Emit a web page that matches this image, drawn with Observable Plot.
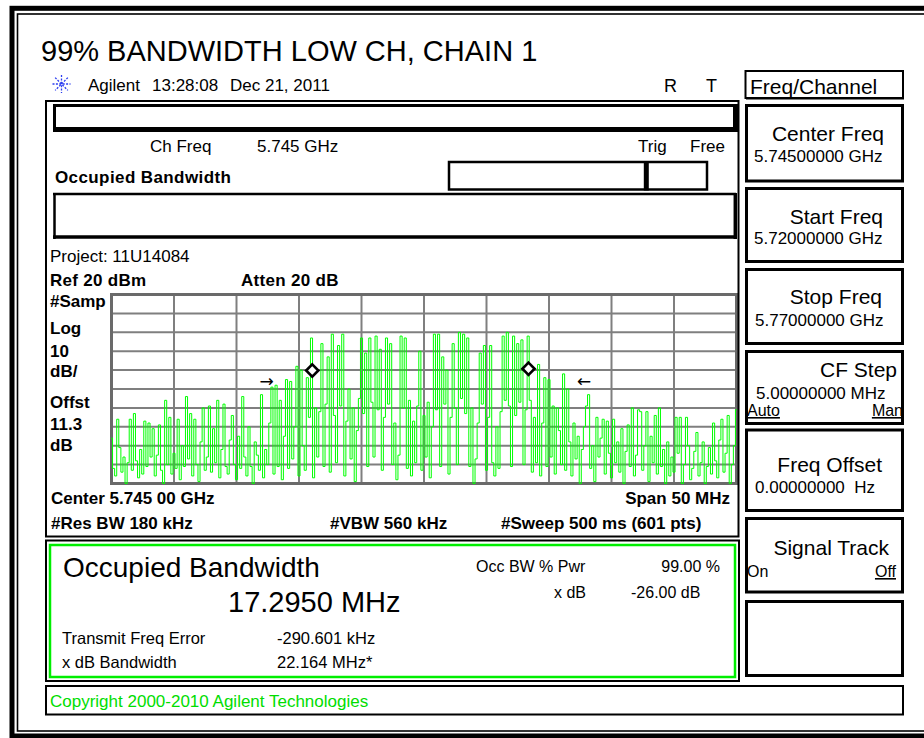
<!DOCTYPE html>
<html>
<head>
<meta charset="utf-8">
<script src="https://cdn.jsdelivr.net/npm/d3@7"></script>
<script src="https://cdn.jsdelivr.net/npm/@observablehq/plot@0.6"></script>
<style>
  html, body { margin: 0; padding: 0; background: #fff; }
  #wrap { position: relative; width: 924px; height: 738px; overflow: hidden; background: #fff; }
  #wrap svg { position: absolute; }
  #overlay { left: 0; top: 0; pointer-events: none; }
</style>
</head>
<body>
<div id="wrap"></div>
<script>
// ---------------- data ----------------
const startFreqMHz = 5720;
const stopFreqMHz = 5770;
const refLevelDbm = 20;
const bottomLevelDbm = -80;
const xGridMHz = [5720, 5725, 5730, 5735, 5740, 5745, 5750, 5755, 5760, 5765, 5770];
const yGridDbm = [-80, -70, -60, -50, -40, -30, -20, -10, 0, 10, 20];

// trace (dBm), evenly spaced across the 50 MHz span
const traceDbm = [
-56,-72,-76,-46,-61,-74,-66,-80,-69,-46,
-73,-43,-68,-77,-62,-75,-47,-71,-48,-66,
-51,-76,-65,-49,-73,-80,-36,-70,-45,-75,
-64,-72,-46,-78,-60,-71,-34,-67,-43,-76,
-46,-70,-79,-58,-40,-73,-66,-39,-74,-51,
-69,-36,-77,-62,-38,-71,-75,-57,-44,-70,
-78,-55,-72,-34,-66,-76,-50,-71,-80,-58,
-65,-73,-33,-77,-62,-70,-48,-29,-75,-28,
-71,-36,-78,-55,-25,-72,-26,-67,-50,-18,
-76,-20,-60,-73,-24,-45,-3,-77,-40,-66,
-42,-6,-71,-38,-13,-74,-1,-44,-69,-7,
-39,-1,-76,-47,-30,-67,-40,-79,-52,-35,
-3,-43,-11,-71,-3,-37,-66,-2,-41,-9,
-73,-45,-3,-38,-6,-70,-48,-78,-65,-2,
-40,-3,-72,-36,-76,-47,-69,-39,-10,-73,
-44,-66,-37,-77,-50,-1,-41,-1,-71,-13,
-38,-20,-75,-45,-6,-40,-70,0,-35,-1,
-43,-3,-71,-40,-80,-67,-48,-11,-38,-7,
-73,-45,-7,-69,-76,-50,-72,-42,-2,-36,
0,-39,-71,-2,-44,-6,-37,-4,-70,-41,
-2,-36,-74,-45,-69,-17,-76,-48,-24,-71,
-25,-66,-39,-75,-40,-52,-70,-22,-73,-30,
-58,-76,-48,-67,-55,-80,-62,-50,-39,-33,
-72,-60,-79,-45,-66,-56,-46,-75,-47,-64,
-77,-46,-69,-58,-74,-51,-80,-63,-49,-71,
-40,-76,-65,-41,-42,-73,-60,-42,-79,-55,
-69,-44,-75,-40,-71,-62,-80,-58,-76,-66,
-74,-45,-64,-45,-80,-70,-45,-60,-78,-72,
-63,-53,-76,-69,-58,-80,-71,-61,-75,-48,
-68,-77,-57,-46,-74,-64,-44,-80,-70,-60,
-41];

// occupied bandwidth edge markers (diamonds)
const obwEdgeMHz = [5736.06, 5753.36];
const obwEdgeDbm = [-20.2, -19.3];
// x dB bandwidth arrows
const xdbArrowMHz = [5732.4, 5757.8];
const xdbArrowDbm = [-26, -26];
const xdbArrowGlyph = ["→", "←"];

// ---------------- build tables ----------------
const nPts = traceDbm.length;
const trace = traceDbm.map((v, i) => ({f: startFreqMHz + i * (stopFreqMHz - startFreqMHz) / (nPts - 1), dbm: v}));
const markers = obwEdgeMHz.map((f, i) => ({f, dbm: obwEdgeDbm[i]}));
const arrows = xdbArrowMHz.map((f, i) => ({f, dbm: xdbArrowDbm[i], t: xdbArrowGlyph[i]}));

const wrap = document.getElementById("wrap");

// ---------------- spectrum plot ----------------
const chart = Plot.plot({
  width: 635,
  height: 199,
  marginLeft: 5, marginRight: 5, marginTop: 5, marginBottom: 5,
  x: {domain: [startFreqMHz, stopFreqMHz], axis: null},
  y: {domain: [bottomLevelDbm, refLevelDbm], axis: null},
  style: {background: "transparent", overflow: "visible"},
  marks: [
    Plot.ruleX(xGridMHz, {stroke: "#7f7f7f", strokeWidth: 2}),
    Plot.ruleY(yGridDbm, {stroke: "#7f7f7f", strokeWidth: 2}),
    Plot.frame({stroke: "#6a6a6a", strokeWidth: 3}),
    Plot.line(trace, {x: "f", y: "dbm", stroke: "#00ff00", strokeWidth: 1, curve: "step"}),
    Plot.dot(markers, {x: "f", y: "dbm", symbol: "diamond2", r: 5.5, stroke: "#000", strokeWidth: 2.6, fill: "#fff"}),
    Plot.text(arrows, {x: "f", y: "dbm", text: "t", fontSize: 17, fill: "#000", fontFamily: "DejaVu Sans"})
  ]
});
chart.style.left = "106px";
chart.style.top = "289px";
wrap.appendChild(chart);

// ---------------- instrument frame & labels ----------------
const W = 924, H = 738;
const svg = d3.create("svg").attr("id", "overlay").attr("width", W).attr("height", H)
  .attr("font-family", "'Liberation Sans', Arial, sans-serif");

function rect(x0, y0, x1, y1, sw, color) {
  return svg.append("rect").attr("x", x0).attr("y", y0).attr("width", x1 - x0).attr("height", y1 - y0)
    .attr("fill", "none").attr("stroke", color || "#000").attr("stroke-width", sw);
}
function line(x0, y0, x1, y1, sw, color) {
  return svg.append("line").attr("x1", x0).attr("y1", y0).attr("x2", x1).attr("y2", y1)
    .attr("stroke", color || "#000").attr("stroke-width", sw);
}
function txt(s, x, y, o = {}) {
  const t = svg.append("text").attr("x", x).attr("y", y)
    .attr("font-size", o.size || 17)
    .attr("text-anchor", o.anchor || "start")
    .attr("fill", o.color || "#000")
    .style("white-space", "pre")
    .text(s);
  if (o.bold) t.attr("font-weight", "bold");
  if (o.underline) t.attr("text-decoration", "underline");
  if (o.ls) t.attr("letter-spacing", o.ls);
  return t;
}

// outer frame
rect(12, 8.3, 960, 736, 5);
rect(17.5, 14, 960, 731, 1.6);

// title
txt("99% BANDWIDTH LOW CH, CHAIN 1", 41, 61, {size: 29});

// agilent logo
[0, 45, 90, 135].forEach(a => {
  const r = 9, rad = a * Math.PI / 180;
  line(61.5 - r * Math.cos(rad), 84 - r * Math.sin(rad), 61.5 + r * Math.cos(rad), 84 + r * Math.sin(rad), 1.3, "#2a3cf0")
    .attr("stroke-dasharray", "2,1.4");
});
txt("Agilent", 88, 91, {size: 17});
txt("13:28:08", 152, 91, {size: 17});
txt("Dec 21, 2011", 230, 91, {size: 17});
txt("R", 664, 92, {size: 18});
txt("T", 706, 92, {size: 18});

// display area
rect(46, 101, 738.5, 536.5, 2);
// top bar box
line(53, 105.5, 736, 105.5, 3);
line(54.5, 104, 54.5, 131, 3);
line(53, 129.5, 738, 129.5, 5);
line(735.5, 104, 735.5, 132, 5);
txt("Ch Freq", 150, 152);
txt("5.745 GHz", 257, 152);
txt("Trig", 638, 152);
txt("Free", 690, 152);
txt("Occupied Bandwidth", 55, 183, {bold: true, ls: "0.4px"});
// trig box
rect(449, 162, 707, 189.5, 2.5);
line(646.3, 161, 646.3, 190.5, 5);
// second bar box
line(53, 194, 736, 194, 2.5);
line(54.5, 193, 54.5, 239, 2.5);
line(53, 237, 737, 237, 3.5);
line(735.3, 193, 735.3, 239, 3.5);

txt("Project: 11U14084", 50, 262);
txt("Ref 20 dBm", 50, 286, {bold: true, ls: "0.3px"});
txt("Atten 20 dB", 241, 286, {bold: true, ls: "0.3px"});
[["#Samp", 307], ["Log", 334], ["10", 357], ["dB/", 377], ["Offst", 408], ["11.3", 430], ["dB", 451]]
  .forEach(([s, y]) => txt(s, 50, y, {bold: true}));
txt("Center 5.745 00 GHz", 51, 504, {bold: true});
txt("Span 50 MHz", 730, 504, {bold: true, anchor: "end"});
txt("#Res BW 180 kHz", 51, 529, {bold: true});
txt("#VBW 560 kHz", 330, 529, {bold: true});
txt("#Sweep 500 ms (601 pts)", 501, 529, {bold: true});

// OBW result box
rect(46, 540.5, 739, 681, 2);
rect(50, 545, 735, 677, 2.5, "#00ee00");
txt("Occupied Bandwidth", 63, 577, {size: 28});
txt("17.2950 MHz", 228, 612, {size: 29});
txt("Occ BW % Pwr", 476, 572, {size: 16});
txt("99.00 %", 720, 572, {size: 16, anchor: "end"});
txt("x dB", 586, 598, {size: 16, anchor: "end"});
txt("-26.00 dB", 631, 598, {size: 16});
txt("Transmit Freq Error", 62, 644, {size: 16.5});
txt("-290.601 kHz", 277, 644, {size: 16.5});
txt("x dB Bandwidth", 62, 668, {size: 16.5});
txt("22.164 MHz*", 277, 668, {size: 16.5});

// copyright bar
rect(46, 686, 903, 714.5, 2);
txt("Copyright 2000-2010 Agilent Technologies", 50, 707, {color: "#00dd00"});

// softkey panel
rect(745.5, 71, 903, 98, 2);
line(746, 98.5, 904, 98.5, 2);
txt("Freq/Channel", 750, 94, {size: 21});
const keys = [
  [104, 182.5], [187, 263], [268, 345], [350, 425], [428.5, 512], [517, 593.5], [600, 677]
];
keys.forEach(([t, b]) => rect(746.5, t + 1.5, 902.5, b - 1.5, 3));
txt("Center Freq", 884, 141, {size: 21, anchor: "end"});
txt("5.74500000 GHz", 754, 162, {size: 17});
txt("Start Freq", 883, 224, {size: 21, anchor: "end"});
txt("5.72000000 GHz", 754, 244, {size: 17});
txt("Stop Freq", 882, 304, {size: 21, anchor: "end"});
txt("5.77000000 GHz", 755, 326, {size: 17});
txt("CF Step", 897, 377, {size: 21, anchor: "end"});
txt("5.00000000 MHz", 756, 399, {size: 17});
txt("Auto", 747, 416, {size: 16, underline: true});
txt("Man", 903, 416, {size: 16, anchor: "end", underline: true});
txt("Freq Offset", 882, 472, {size: 21, anchor: "end"});
txt("0.00000000  Hz", 755, 493, {size: 17});
txt("Signal Track", 889, 555, {size: 21, anchor: "end"});
txt("On", 747, 577, {size: 16});
txt("Off", 896, 577, {size: 16, anchor: "end", underline: true});

wrap.appendChild(svg.node());
</script>
</body>
</html>
